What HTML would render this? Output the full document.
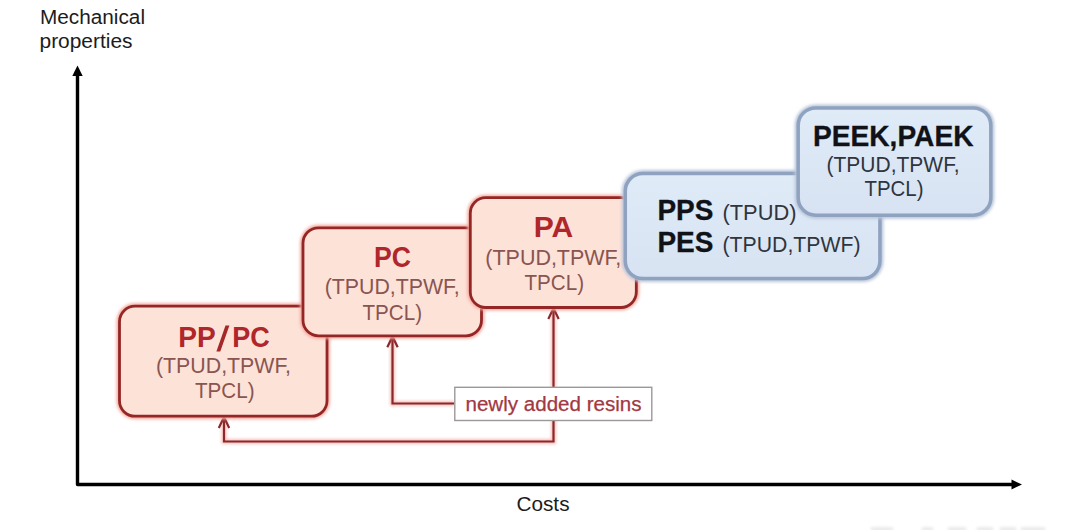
<!DOCTYPE html>
<html>
<head>
<meta charset="utf-8">
<title>Mechanical properties vs Costs</title>
<style>
  html, body { margin: 0; padding: 0; background: #ffffff; }
  body { width: 1073px; height: 530px; overflow: hidden; font-family: "Liberation Sans", sans-serif; }
  svg { display: block; }
  text { font-family: "Liberation Sans", sans-serif; }
  .ax { font-size: 20px; fill: #1c1c1c; }
  .rt { font-size: 29px; font-weight: bold; fill: #b0262a; }
  .rs { font-size: 21.5px; fill: #8a5550; }
  .bt { font-size: 29px; font-weight: bold; fill: #111217; stroke: #111217; stroke-width: 0.3; }
  .bs { font-size: 21.5px; fill: #30353d; }
  .rb { fill: #fde2d8; stroke: #942725; stroke-width: 2.8; }
  .bb { fill: url(#bluefill); stroke: #8fa2bf; stroke-width: 3.5; }
  .ar { fill: none; stroke: #8a282c; stroke-width: 2.2; stroke-linejoin: miter; }
</style>
</head>
<body>
<svg width="1073" height="530" viewBox="0 0 1073 530">
  <defs>
    <linearGradient id="bluefill" x1="0" y1="0" x2="0" y2="1">
      <stop offset="0" stop-color="#e0ebf8"/>
      <stop offset="1" stop-color="#d7e3f2"/>
    </linearGradient>
    <filter id="soft2" x="0" y="0" width="1073" height="530" filterUnits="userSpaceOnUse">
      <feGaussianBlur stdDeviation="1.6"/>
    </filter>
  </defs>
  <rect x="0" y="0" width="1073" height="530" fill="#ffffff"/>

  <!-- axis labels -->
  <text class="ax" x="40" y="23.5" textLength="105" lengthAdjust="spacingAndGlyphs">Mechanical</text>
  <text class="ax" x="39.5" y="47.5" textLength="93" lengthAdjust="spacingAndGlyphs">properties</text>
  <text class="ax" x="516.5" y="511" textLength="53" lengthAdjust="spacingAndGlyphs">Costs</text>

  <!-- faint cut-off watermark remnants at bottom edge -->
  <g fill="#dcdcdc" filter="url(#soft2)" opacity="0.8">
    <rect x="871" y="527.5" width="22" height="3"/>
    <rect x="922" y="527.5" width="11" height="3"/>
    <rect x="948" y="527.5" width="18" height="3"/>
    <rect x="977" y="527.5" width="16" height="3"/>
    <rect x="1000" y="527.5" width="16" height="3"/>
    <rect x="1021" y="527.5" width="24" height="3"/>
  </g>

  <!-- axes -->
  <path d="M77.5 74 L77.5 484.5 L1012 484.5" fill="none" stroke="#000" stroke-width="3.4" stroke-linejoin="round"/>
  <path d="M72.3 76 L77.5 65.5 L82.7 76 Z" fill="#000"/>
  <path d="M1011.5 479.6 L1022 484.5 L1011.5 489.4 Z" fill="#000"/>

  <!-- red arrows / connectors : glow -->
  <g filter="url(#soft2)" fill="none" stroke="#f9c0b9" stroke-width="5">
    <path d="M454 403.5 L392.5 403.5 L392.5 338"/>
    <path d="M553.5 387 L553.5 310"/>
    <path d="M553.5 420 L553.5 441.5 L224 441.5 L224 419"/>
  </g>
  <!-- red arrows / connectors -->
  <path class="ar" d="M454 403.5 L392.5 403.5 L392.5 338"/>
  <path class="ar" d="M387.3 347.2 L392.5 336.4 L397.7 347.2" stroke-width="2.3"/>
  <path class="ar" d="M553.5 387 L553.5 310"/>
  <path class="ar" d="M548.3 319 L553.5 308.2 L558.7 319" stroke-width="2.3"/>
  <path class="ar" d="M553.5 420 L553.5 441.5 L224 441.5 L224 419"/>
  <path class="ar" d="M218.8 428 L224 417 L229.2 428" stroke-width="2.3"/>

  <!-- newly added resins label -->
  <rect x="454.8" y="387.3" width="197" height="33.2" fill="#ffffff" stroke="#9d9898" stroke-width="1.4"/>
  <text x="465.5" y="411" font-size="20" fill="#a23843" stroke="#a23843" stroke-width="0.25" textLength="176" lengthAdjust="spacingAndGlyphs">newly added resins</text>

  <!-- PP/PC -->
  <g filter="url(#soft2)"><rect x="119.5" y="306.2" width="207.5" height="110" rx="15.5" fill="none" stroke="#f5aaa0" stroke-width="6"/></g>
  <rect class="rb" x="119.5" y="306.2" width="207.5" height="110" rx="15.5" ry="15.5"/>
  <text class="rt" x="178.3" y="347.3" textLength="37.5" lengthAdjust="spacingAndGlyphs">PP</text>
  <polygon points="216.4,351.4 220.3,351.4 229.4,325.5 225.5,325.5" fill="#a6272a"/>
  <text class="rt" x="232.2" y="347.3" textLength="37.6" lengthAdjust="spacingAndGlyphs">PC</text>
  <text class="rs" x="156" y="373.3" textLength="135" lengthAdjust="spacingAndGlyphs">(TPUD,TPWF,</text>
  <text class="rs" x="195" y="397.9" textLength="59.5" lengthAdjust="spacingAndGlyphs">TPCL)</text>

  <!-- PC -->
  <g filter="url(#soft2)"><rect x="303" y="227.8" width="178.5" height="108" rx="15.5" fill="none" stroke="#f5aaa0" stroke-width="6"/></g>
  <rect class="rb" x="303" y="227.8" width="178.5" height="108" rx="15.5" ry="15.5"/>
  <text class="rt" x="374" y="266.8" textLength="37" lengthAdjust="spacingAndGlyphs">PC</text>
  <text class="rs" x="324.7" y="294.3" textLength="135" lengthAdjust="spacingAndGlyphs">(TPUD,TPWF,</text>
  <text class="rs" x="362.5" y="319.5" textLength="59.5" lengthAdjust="spacingAndGlyphs">TPCL)</text>

  <!-- PA -->
  <g filter="url(#soft2)"><rect x="470.3" y="197.7" width="166" height="109.8" rx="15.5" fill="none" stroke="#f5aaa0" stroke-width="6"/></g>
  <rect class="rb" x="470.3" y="197.7" width="166" height="109.8" rx="15.5" ry="15.5"/>
  <text class="rt" x="533.7" y="237.4" textLength="39.5" lengthAdjust="spacingAndGlyphs">PA</text>
  <text class="rs" x="485.3" y="265.3" textLength="136" lengthAdjust="spacingAndGlyphs">(TPUD,TPWF,</text>
  <text class="rs" x="524.5" y="289.5" textLength="59.5" lengthAdjust="spacingAndGlyphs">TPCL)</text>

  <!-- PPS / PES -->
  <g filter="url(#soft2)"><rect x="625.3" y="173.6" width="254.6" height="105" rx="17.5" fill="none" stroke="#b9c6da" stroke-width="7"/></g>
  <rect class="bb" x="625.3" y="173.6" width="254.6" height="105" rx="17.5" ry="17.5"/>
  <text class="bt" x="657.4" y="219.5" textLength="56" lengthAdjust="spacingAndGlyphs">PPS</text>
  <text class="bs" x="722.5" y="220.3" textLength="74" lengthAdjust="spacingAndGlyphs">(TPUD)</text>
  <text class="bt" x="657.4" y="251.5" textLength="56" lengthAdjust="spacingAndGlyphs">PES</text>
  <text class="bs" x="722.5" y="251.8" textLength="138" lengthAdjust="spacingAndGlyphs">(TPUD,TPWF)</text>

  <!-- PEEK, PAEK -->
  <g filter="url(#soft2)"><rect x="798.2" y="107.9" width="192.6" height="107.3" rx="17.5" fill="none" stroke="#b9c6da" stroke-width="7"/></g>
  <rect class="bb" x="798.2" y="107.9" width="192.6" height="107.3" rx="17.5" ry="17.5"/>
  <text class="bt" x="813" y="145.8" textLength="160.5" lengthAdjust="spacingAndGlyphs">PEEK,PAEK</text>
  <text class="bs" x="826.5" y="172.3" textLength="133" lengthAdjust="spacingAndGlyphs">(TPUD,TPWF,</text>
  <text class="bs" x="864.5" y="196.2" textLength="59" lengthAdjust="spacingAndGlyphs">TPCL)</text>
</svg>
</body>
</html>
